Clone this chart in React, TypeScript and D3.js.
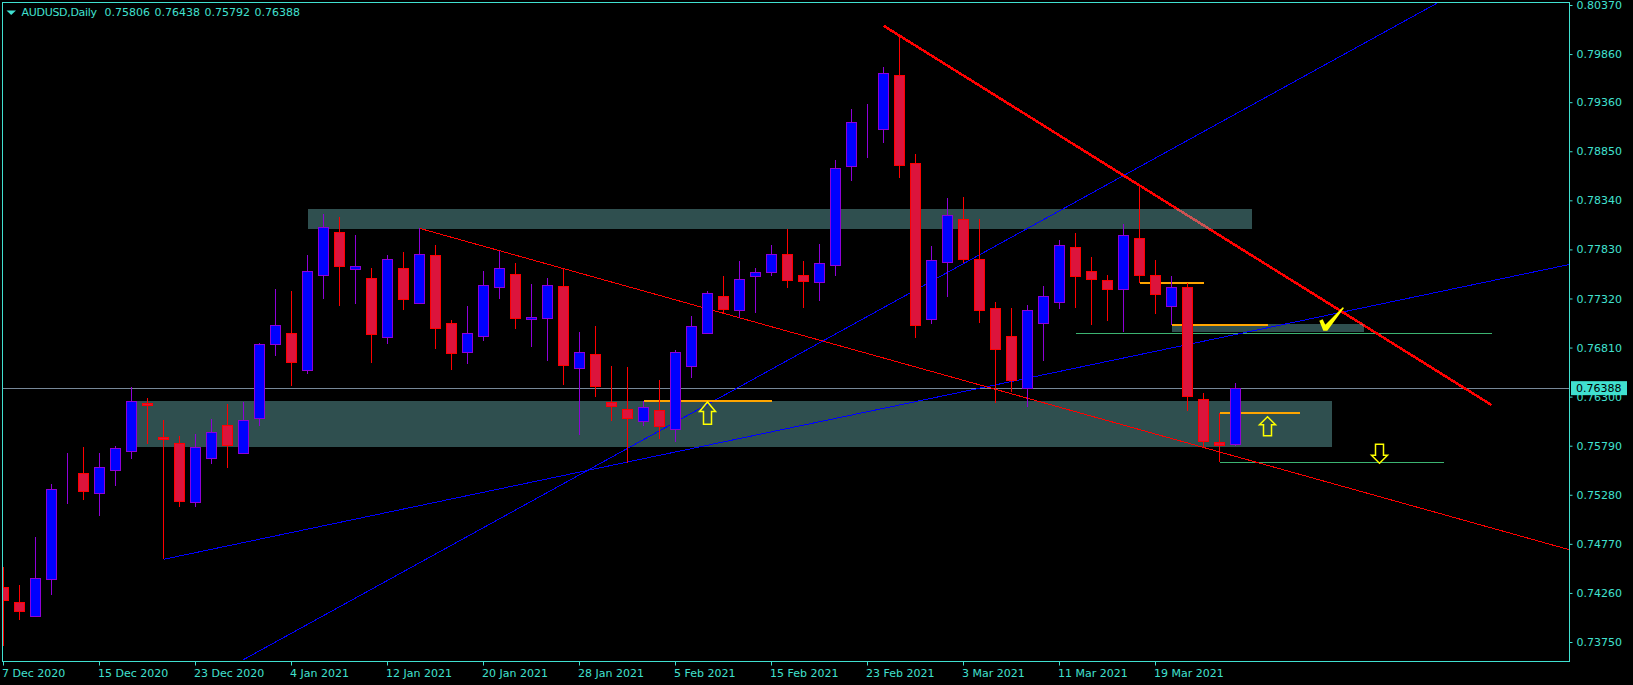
import { useEffect, useRef } from 'react';
import * as d3 from 'd3';

const W = 1633;
const H = 685;

// daily bars, oldest first
const opens = [
  0.74321, 0.74165, 0.74013, 0.74401, 0.75316, 0.75503, 0.75295, 0.7553, 0.75727, 0.7623,
  0.75877, 0.75815, 0.75197, 0.75659, 0.75998, 0.75711, 0.7607, 0.76839, 0.76958, 0.76569,
  0.77557, 0.78008, 0.77619, 0.7753, 0.76916, 0.77634, 0.7727, 0.77769, 0.77062, 0.76756,
  0.76923, 0.77432, 0.77571, 0.77104, 0.7711, 0.77446, 0.76594, 0.7674, 0.76244, 0.76164,
  0.76043, 0.76158, 0.75963, 0.76615, 0.76958, 0.77343, 0.77197, 0.7755, 0.77592, 0.77779,
  0.77561, 0.77488, 0.77665, 0.78694, 0.79109, 0.79078, 0.79639, 0.78725, 0.77104, 0.77696,
  0.78143, 0.77727, 0.77218, 0.76927, 0.76386, 0.77062, 0.77276, 0.77852, 0.77602, 0.77509,
  0.77415, 0.77945, 0.77561, 0.77239, 0.77436, 0.76272, 0.75825, 0.75806,
];
const highs = [
  0.74532, 0.74342, 0.74844, 0.75392, 0.75711, 0.75776, 0.75714, 0.75787, 0.764, 0.76282,
  0.76054, 0.75894, 0.75915, 0.76064, 0.76223, 0.76244, 0.76857, 0.77418, 0.77398, 0.77772,
  0.78198, 0.78164, 0.7798, 0.77634, 0.77769, 0.77806, 0.78049, 0.77876, 0.77096, 0.77242,
  0.77605, 0.77816, 0.77685, 0.7747, 0.7753, 0.77634, 0.76971, 0.77034, 0.76618, 0.76608,
  0.76254, 0.76473, 0.76784, 0.77138, 0.77398, 0.77554, 0.77709, 0.77634, 0.77876, 0.78039,
  0.77706, 0.77886, 0.78759, 0.79289, 0.79341, 0.79726, 0.80048, 0.78822, 0.77865, 0.78364,
  0.78375, 0.78143, 0.7728, 0.77218, 0.77252, 0.7745, 0.77928, 0.78, 0.77751, 0.77564,
  0.78094, 0.78482, 0.7772, 0.77554, 0.77478, 0.76338, 0.7613, 0.76438,
];
const lows = [
  0.73708, 0.73978, 0.74013, 0.74241, 0.75187, 0.75229, 0.75062, 0.75374, 0.75655, 0.75811,
  0.74609, 0.75156, 0.75156, 0.756, 0.75561, 0.75711, 0.75995, 0.76725, 0.76413, 0.76538,
  0.77318, 0.77245, 0.77266, 0.76652, 0.76847, 0.77203, 0.7727, 0.76798, 0.7658, 0.76642,
  0.76881, 0.77318, 0.77006, 0.76819, 0.76673, 0.76424, 0.75901, 0.76296, 0.76046, 0.7561,
  0.75995, 0.7586, 0.75825, 0.76497, 0.76958, 0.77166, 0.77117, 0.77172, 0.77557, 0.77432,
  0.77224, 0.77297, 0.77557, 0.78544, 0.7878, 0.78939, 0.78575, 0.76912, 0.77058, 0.77338,
  0.77685, 0.77068, 0.76234, 0.76351, 0.76195, 0.76673, 0.77214, 0.77224, 0.77044, 0.77086,
  0.76971, 0.77478, 0.77162, 0.77044, 0.76154, 0.75779, 0.75617, 0.75792,
];
const closes = [
  0.74179, 0.74072, 0.74412, 0.75337, 0.75316, 0.75312, 0.75565, 0.75763, 0.76251, 0.76213,
  0.75856, 0.75208, 0.75773, 0.75929, 0.75797, 0.76054, 0.76844, 0.77041, 0.76652, 0.77602,
  0.7806, 0.7765, 0.77654, 0.76944, 0.77727, 0.77311, 0.77779, 0.77006, 0.7675, 0.76958,
  0.77457, 0.77634, 0.7711, 0.77124, 0.77457, 0.76625, 0.7676, 0.76403, 0.76195, 0.7607,
  0.76185, 0.75987, 0.7676, 0.77031, 0.77374, 0.77203, 0.77519, 0.77592, 0.77779, 0.77505,
  0.77494, 0.77685, 0.78673, 0.79151, 0.79109, 0.7966, 0.787, 0.77041, 0.77717, 0.7818,
  0.77723, 0.77193, 0.76788, 0.76465, 0.77197, 0.77343, 0.77873, 0.77546, 0.77519, 0.77411,
  0.77977, 0.77557, 0.77359, 0.77436, 0.76299, 0.75836, 0.7579, 0.76388,
];

const priceTicks = [
  0.8037, 0.7986, 0.7936, 0.7885, 0.7834, 0.7783, 0.7732, 0.7681, 0.763, 0.7579, 0.7528, 0.7477,
  0.7426, 0.7375,
];
const dateTickBars = [0, 6, 12, 18, 24, 30, 36, 42, 48, 54, 60, 66, 72];
const dateTickLabels = [
  '7 Dec 2020', '15 Dec 2020', '23 Dec 2020', '4 Jan 2021', '12 Jan 2021', '20 Jan 2021',
  '28 Jan 2021', '5 Feb 2021', '15 Feb 2021', '23 Feb 2021', '3 Mar 2021', '11 Mar 2021',
  '19 Mar 2021',
];

const symbolLabel = 'AUDUSD,Daily';
const ohlcLabels = ['0.75806', '0.76438', '0.75792', '0.76388'];
const lastPrice = 0.76388;

// [barFrom, barTo, priceTop, priceBottom]
const zones = [
  [19, 78, 0.7825, 0.78042],
  [8, 83, 0.76254, 0.75779],
  [73, 85, 0.77055, 0.76971],
];
// [barFrom, barTo, price]
const orangeLevels = [
  [40, 48, 0.76254],
  [71, 75, 0.77481],
  [73, 79, 0.77044],
  [76, 81, 0.7613],
];
const greenLevels = [
  [67, 93, 0.76958],
  [76, 90, 0.75617],
];
// [bar1, price1, bar2, price2]
const thinRedLines = [[26, 0.78049, 98, 0.74703]];
const thickRedLines = [[55, 0.80155, 93, 0.76213]];
const blueLines = [
  [15, 0.73567, 90, 0.80426],
  [10, 0.74609, 98, 0.77678],
];
// [bar, priceTop, priceBottom]
const upArrows = [
  [44, 0.76244, 0.76012],
  [79, 0.76091, 0.75894],
];
const downArrows = [[86, 0.75804, 0.75607]];
const checkMark = [83, 0.77096];

const TURQ = '#40e0d0';
const FONT = '"DejaVu Sans", sans-serif';

export default function App() {
  const svgRef = useRef<SVGSVGElement>(null);

  useEffect(() => {
    if (!svgRef.current) return;
    const svg = d3.select(svgRef.current);
    svg.selectAll('*').remove();

    const frame = { left: 2.5, right: 1569.5, top: 2.5, bottom: 661.5 };
    const x = d3.scaleLinear().domain([0, 77]).range([3.5, 1235.5]);
    const y = d3.scaleLinear().domain([0.8037, 0.7375]).range([5, 642]);

    const defs = svg.append('defs');
    defs.append('clipPath').attr('id', 'plot').append('rect')
      .attr('x', frame.left).attr('y', frame.top)
      .attr('width', frame.right - frame.left).attr('height', frame.bottom - frame.top);
    const zoneClip = defs.append('clipPath').attr('id', 'zones');
    zones.forEach((z) => {
      zoneClip.append('rect')
        .attr('x', x(z[0])).attr('y', y(z[2]))
        .attr('width', x(z[1]) - x(z[0])).attr('height', y(z[3]) - y(z[2]));
    });

    svg.append('rect').attr('width', W).attr('height', H).attr('fill', '#000');

    const g = svg.append('g').attr('clip-path', 'url(#plot)').attr('shape-rendering', 'crispEdges');

    // Zones sit behind everything
    g.selectAll('.zone').data(zones).join('rect')
      .attr('class', 'zone')
      .attr('x', (d) => x(d[0])).attr('y', (d) => y(d[2]))
      .attr('width', (d) => x(d[1]) - x(d[0])).attr('height', (d) => y(d[3]) - y(d[2]))
      .attr('fill', '#2f4f4f');

    // Bid line
    g.append('line')
      .attr('x1', frame.left).attr('x2', frame.right)
      .attr('y1', y(lastPrice)).attr('y2', y(lastPrice))
      .attr('stroke', '#778899');

    const drawLevels = (rows: number[][], color: string, width: number) => {
      rows.forEach((d) => {
        g.append('line')
          .attr('x1', x(d[0])).attr('x2', x(d[1]))
          .attr('y1', y(d[2])).attr('y2', y(d[2]))
          .attr('stroke', color).attr('stroke-width', width);
      });
    };
    drawLevels(greenLevels, '#3cb371', 1);

    const segment = d3.line<number[]>().x((d) => x(d[0])).y((d) => y(d[1]));
    const drawLines = (rows: number[][], color: string, width: number) => {
      return rows.map((d) => g.append('path')
        .attr('d', segment([[d[0], d[1]], [d[2], d[3]]]))
        .attr('fill', 'none').attr('stroke', color).attr('stroke-width', width));
    };
    drawLines(blueLines, '#0000ff', 1);
    drawLines(thinRedLines, '#ff0000', 1);
    drawLines(thickRedLines, '#ff0000', 2.5);
    // Thick line looks washed out where it crosses a zone
    drawLines(thickRedLines, '#cd5353', 2.5).forEach((p) => p.attr('clip-path', 'url(#zones)'));

    drawLevels(orangeLevels, '#ffa500', 2);

    // Candles
    const bars = d3.range(closes.length);
    const isUp = (i: number) => closes[i] >= opens[i];
    const edge = (i: number) => (isUp(i) ? '#8f00d8' : '#ff0000');
    const fill = (i: number) => (isUp(i) ? '#0000ff' : '#dc143c');
    const candle = g.selectAll('.candle').data(bars).join('g').attr('class', 'candle');
    candle.append('line')
      .attr('x1', (i) => x(i)).attr('x2', (i) => x(i))
      .attr('y1', (i) => y(highs[i])).attr('y2', (i) => y(lows[i]))
      .attr('stroke', edge);
    candle.append('rect')
      .attr('x', (i) => x(i) - 5).attr('width', 10)
      .attr('y', (i) => y(Math.max(opens[i], closes[i])))
      .attr('height', (i) => Math.abs(y(opens[i]) - y(closes[i])))
      .attr('fill', fill).attr('stroke', edge);

    // Arrows, hollow
    const arrowPath = (bar: number, tipY: number, tailY: number) => {
      const cx = x(bar);
      const head = (tailY - tipY) * 0.42;
      const p = d3.path();
      p.moveTo(cx, tipY);
      p.lineTo(cx + 8, tipY + head);
      p.lineTo(cx + 4, tipY + head);
      p.lineTo(cx + 4, tailY);
      p.lineTo(cx - 4, tailY);
      p.lineTo(cx - 4, tipY + head);
      p.lineTo(cx - 8, tipY + head);
      p.closePath();
      return p.toString();
    };
    const arrows = svg.append('g').attr('fill', 'none').attr('stroke', '#ffff00').attr('stroke-width', 1.5);
    upArrows.forEach((a) => arrows.append('path').attr('d', arrowPath(a[0], y(a[1]), y(a[2]))));
    downArrows.forEach((a) => arrows.append('path').attr('d', arrowPath(a[0], y(a[2]), y(a[1]))));

    svg.append('path')
      .attr('transform', `translate(${x(checkMark[0])},${y(checkMark[1])})`)
      .attr('d', 'M-12.2,0.7L-8.8,-0.7L-6.2,4.7L11.2,-12.7L12.5,-12L-4.2,10.7L-8.2,10.7Z')
      .attr('fill', '#ffff00');

    // Frame
    svg.append('rect')
      .attr('x', frame.left).attr('y', frame.top)
      .attr('width', frame.right - frame.left).attr('height', frame.bottom - frame.top)
      .attr('fill', 'none').attr('stroke', TURQ).attr('shape-rendering', 'crispEdges');

    // Price axis
    const yAxis = svg.append('g')
      .attr('transform', `translate(${frame.right},0)`)
      .call(d3.axisRight(y).tickValues(priceTicks).tickFormat(d3.format('.5f') as any).tickSize(3).tickPadding(4));
    yAxis.select('.domain').remove();
    yAxis.selectAll('line').attr('stroke', TURQ);
    yAxis.selectAll('text').attr('fill', TURQ).attr('font-size', 11).attr('font-family', FONT);

    // Date axis
    const xAxis = svg.append('g')
      .attr('transform', `translate(0,${frame.bottom})`)
      .call(
        d3.axisBottom(x)
          .tickValues(dateTickBars)
          .tickFormat((_, i) => dateTickLabels[i])
          .tickSize(4)
          .tickPadding(3.5)
          .offset(0),
      );
    xAxis.select('.domain').remove();
    xAxis.selectAll('line').attr('stroke', TURQ);
    xAxis.selectAll('text')
      .attr('fill', TURQ).attr('font-size', 11).attr('font-family', FONT)
      .attr('text-anchor', 'start').attr('x', -1.5);

    // Last price tag
    svg.append('rect')
      .attr('x', 1571).attr('y', y(lastPrice) - 7)
      .attr('width', 56).attr('height', 14)
      .attr('fill', TURQ);
    svg.append('text')
      .attr('x', 1576).attr('y', y(lastPrice))
      .attr('dy', '0.36em')
      .attr('fill', '#000').attr('font-size', 11).attr('font-family', FONT)
      .text(d3.format('.5f')(lastPrice));

    // Header
    svg.append('path').attr('d', 'M6.5,10.5L16,10.5L11.2,15Z').attr('fill', TURQ);
    const header = svg.append('g').attr('fill', TURQ).attr('font-size', 11).attr('font-family', FONT);
    header.append('text').attr('x', 21.5).attr('y', 16).attr('letter-spacing', -0.3).text(symbolLabel);
    ohlcLabels.forEach((t, i) => {
      header.append('text').attr('x', 104.5 + i * 50).attr('y', 16).text(t);
    });
  }, []);

  return (
    <svg
      ref={svgRef}
      width={W}
      height={H}
      style={{ position: 'absolute', left: 0, top: 0, display: 'block', background: '#000' }}
    />
  );
}
